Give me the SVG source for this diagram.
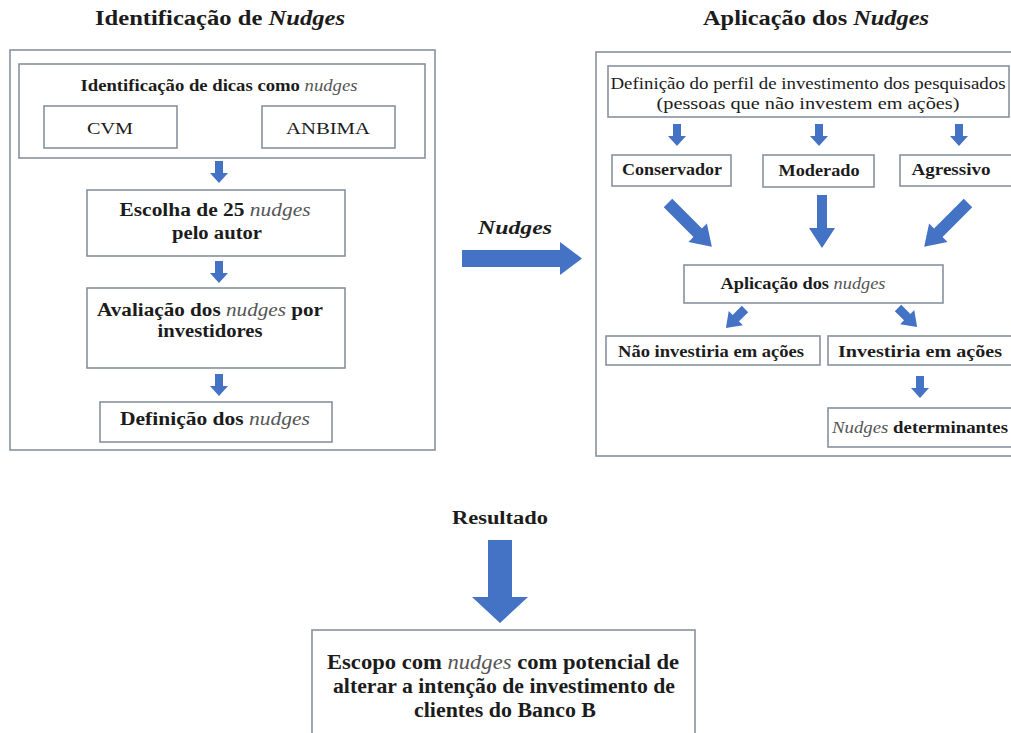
<svg xmlns="http://www.w3.org/2000/svg" width="1011" height="733" viewBox="0 0 1011 733" font-family="'Liberation Serif', 'DejaVu Serif', serif">
<style>
text{font-family:'Liberation Serif','DejaVu Serif',serif;fill:#1c1c1c;text-anchor:middle}
.b{font-weight:bold}
.t{font-size:21px;font-weight:bold}
.it{font-style:italic;font-weight:normal;fill:#555}
.ti{font-style:italic}
.box{fill:#fff;stroke:#8791a0;stroke-width:1.6}
.arr{fill:#4472c4}
</style>
<defs>
<path id="sa" d="M-4,0 H4 V12 H9 L0,22 L-9,12 H-4 Z"/>
<path id="la" d="M-6,0 H6 V42 H13 L0,62 L-13,42 H-6 Z"/>
<path id="da" d="M-4.5,0 H4.5 V13 H10 L0,27 L-10,13 H-4.5 Z"/>
</defs>
<rect width="1011" height="733" fill="#fff"/>

<g id="title-left"><text class="t" x="220" y="25" textLength="250" lengthAdjust="spacingAndGlyphs">Identificação de <tspan class="ti">Nudges</tspan></text></g>
<g id="title-right"><text class="t" x="816" y="25" textLength="226" lengthAdjust="spacingAndGlyphs">Aplicação dos <tspan class="ti">Nudges</tspan></text></g>

<g id="left-panel"><rect class="box" x="10" y="50" width="425" height="400"/></g>
<g id="identificacao"><rect class="box" x="19" y="64" width="406" height="94"/>
<text class="b" x="219" y="91" font-size="16" textLength="277" lengthAdjust="spacingAndGlyphs">Identificação  de dicas  como <tspan class="it">nudges</tspan></text></g>
<g id="cvm"><rect class="box" x="44" y="106" width="133" height="42"/><text x="110" y="134" font-size="17" textLength="46" lengthAdjust="spacingAndGlyphs">CVM</text></g>
<g id="anbima"><rect class="box" x="262" y="106" width="133" height="42"/><text x="328" y="134" font-size="17" textLength="84" lengthAdjust="spacingAndGlyphs">ANBIMA</text></g>
<g id="escolha"><rect class="box" x="87" y="190" width="258" height="66"/>
<text class="b" x="215" y="216" font-size="18" textLength="191" lengthAdjust="spacingAndGlyphs">Escolha de 25 <tspan class="it">nudges</tspan></text>
<text class="b" x="217" y="239" font-size="18" textLength="90" lengthAdjust="spacingAndGlyphs">pelo autor</text></g>
<g id="avaliacao"><rect class="box" x="87" y="288" width="258" height="80"/>
<text class="b" x="210" y="316" font-size="18" textLength="226" lengthAdjust="spacingAndGlyphs">Avaliação dos <tspan class="it">nudges</tspan> por</text>
<text class="b" x="210" y="337" font-size="18" textLength="105" lengthAdjust="spacingAndGlyphs">investidores</text></g>
<g id="definicao"><rect class="box" x="100" y="402" width="232" height="40"/>
<text class="b" x="215" y="425" font-size="18" textLength="190" lengthAdjust="spacingAndGlyphs">Definição  dos <tspan class="it">nudges</tspan></text></g>

<g id="right-panel"><rect class="box" x="596" y="52" width="430" height="404"/></g>
<g id="perfil"><rect class="box" x="608" y="66" width="401" height="51"/>
<text x="808" y="89" font-size="16" textLength="395" lengthAdjust="spacingAndGlyphs">Definição do perfil de investimento  dos pesquisados</text>
<text x="808" y="109" font-size="16" textLength="303" lengthAdjust="spacingAndGlyphs">(pessoas que não investem em ações)</text></g>
<g id="conservador"><rect class="box" x="612" y="155" width="119" height="31"/><text class="b" x="672" y="175" font-size="16" textLength="100" lengthAdjust="spacingAndGlyphs">Conservador</text></g>
<g id="moderado"><rect class="box" x="763" y="155" width="111" height="32"/><text class="b" x="819" y="176" font-size="16" textLength="81" lengthAdjust="spacingAndGlyphs">Moderado</text></g>
<g id="agressivo"><rect class="box" x="900" y="155" width="120" height="31"/><text class="b" x="951" y="175" font-size="16" textLength="79" lengthAdjust="spacingAndGlyphs">Agressivo</text></g>
<g id="aplicacao"><rect class="box" x="684" y="265" width="259" height="38"/>
<text class="b" x="803" y="289" font-size="16" textLength="165" lengthAdjust="spacingAndGlyphs">Aplicação  dos <tspan class="it">nudges</tspan></text></g>
<g id="nao-investiria"><rect class="box" x="606" y="336" width="214" height="29"/><text class="b" x="711" y="357" font-size="16" textLength="186" lengthAdjust="spacingAndGlyphs">Não investiria  em ações</text></g>
<g id="investiria"><rect class="box" x="828" y="336" width="190" height="29"/><text class="b" x="920" y="357" font-size="16" textLength="164" lengthAdjust="spacingAndGlyphs">Investiria  em ações</text></g>
<g id="determinantes"><rect class="box" x="828" y="408" width="190" height="39"/><text class="b" x="920" y="433" font-size="16" textLength="176" lengthAdjust="spacingAndGlyphs"><tspan class="it">Nudges</tspan> determinantes</text></g>

<g id="nudges-label"><text class="b ti" x="515" y="234" font-size="19" textLength="74" lengthAdjust="spacingAndGlyphs">Nudges</text></g>
<g id="resultado-label"><text class="b" x="500" y="524" font-size="18" textLength="96" lengthAdjust="spacingAndGlyphs">Resultado</text></g>
<g id="escopo"><rect class="box" x="312" y="630" width="383" height="110"/>
<text class="b" x="503" y="669" font-size="20" textLength="352" lengthAdjust="spacingAndGlyphs">Escopo com <tspan class="it">nudges</tspan>  com potencial  de</text>
<text class="b" x="504" y="693" font-size="20" textLength="342" lengthAdjust="spacingAndGlyphs">alterar  a intenção  de investimento  de</text>
<text class="b" x="505" y="717" font-size="20" textLength="182" lengthAdjust="spacingAndGlyphs">clientes  do Banco B</text></g>

<g id="connectors">
<use href="#sa" class="arr" x="219" y="161"/>
<use href="#sa" class="arr" x="219" y="261"/>
<use href="#sa" class="arr" x="219" y="374"/>
<use href="#sa" class="arr" x="677" y="124"/>
<use href="#sa" class="arr" x="819" y="124"/>
<use href="#sa" class="arr" x="959" y="124"/>
<use href="#la" class="arr" transform="translate(668,203) rotate(-45)"/>
<path class="arr" d="M817,195 H827 V228 H835 L822,248 L809,228 H817 Z"/>
<use href="#la" class="arr" transform="translate(968,203) rotate(45)"/>
<use href="#da" class="arr" transform="translate(745,309) rotate(45)"/>
<use href="#da" class="arr" transform="translate(898,308) rotate(-45)"/>
<use href="#sa" class="arr" x="920" y="376"/>
<polygon class="arr" points="462,250 560,250 560,242 582,258.5 560,275 560,267 462,267"/>
<polygon class="arr" points="488,540 512,540 512,597 528,597 500,623 472,597 488,597"/>
</g>
</svg>
